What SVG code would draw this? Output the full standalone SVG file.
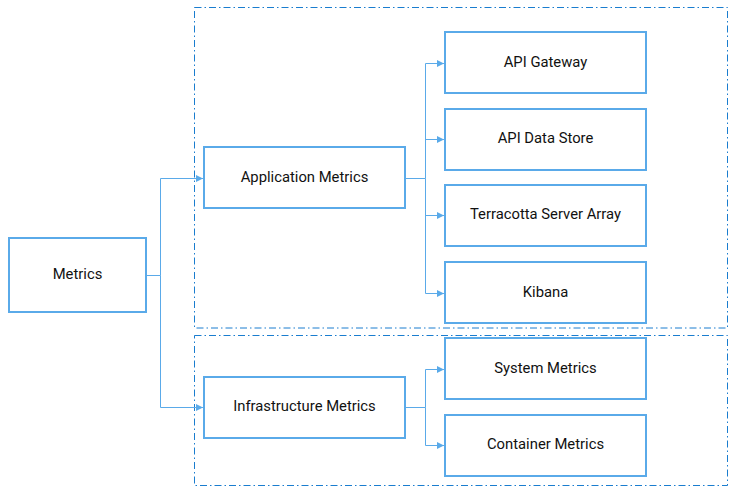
<svg xmlns="http://www.w3.org/2000/svg" width="738" height="492" viewBox="0 0 738 492">
<defs>
<style>
.box{fill:#fff;stroke:#5aaae9;stroke-width:2}
.grp{fill:none;stroke:#1a7dcf;stroke-width:1;stroke-dasharray:7 3 1.5 3}
.lbl{font-family:Roboto,"Liberation Sans",sans-serif;font-size:14.8px;fill:#111;text-anchor:middle;dominant-baseline:central}
.con{fill:none;stroke:#5aaae9;stroke-width:1}
</style>
<marker id="arr" viewBox="0 0 10 10" refX="10" refY="5" markerWidth="7" markerHeight="7" markerUnits="userSpaceOnUse" orient="auto">
<path d="M0,0 L10,5 L0,10 Z" fill="#5aaae9"/>
</marker>
</defs>
<rect class="grp" x="194.5" y="7.5" width="533" height="320.5"/>
<rect class="grp" x="194.5" y="335.5" width="533" height="150"/>
<g id="connectors">
<path class="con" d="M147,275.5 H160.5 V178.5 H203" marker-end="url(#arr)"/>
<path class="con" d="M160.5,275.5 V407.5 H203" marker-end="url(#arr)"/>
<path class="con" d="M405,178.5 H425.5 V63.5 H444" marker-end="url(#arr)"/>
<path class="con" d="M425.5,139.5 H444" marker-end="url(#arr)"/>
<path class="con" d="M425.5,178.5 V293.5 H444" marker-end="url(#arr)"/>
<path class="con" d="M425.5,215.5 H444" marker-end="url(#arr)"/>
<path class="con" d="M405,407.5 H425.5 V369.5 H444" marker-end="url(#arr)"/>
<path class="con" d="M425.5,407.5 V445.5 H444" marker-end="url(#arr)"/>
</g>
<g id="metrics"><rect class="box" x="9" y="238" width="137" height="74"/><text class="lbl" x="77.5" y="273.5">Metrics</text></g>
<g id="app"><rect class="box" x="204" y="147" width="201" height="61"/><text class="lbl" x="304.5" y="176.5">Application Metrics</text></g>
<g id="infra"><rect class="box" x="204" y="377" width="201" height="61"/><text class="lbl" x="304.5" y="406">Infrastructure Metrics</text></g>
<g id="gateway"><rect class="box" x="445" y="32" width="201" height="61"/><text class="lbl" x="545.5" y="61.5">API Gateway</text></g>
<g id="datastore"><rect class="box" x="445" y="109" width="201" height="61"/><text class="lbl" x="545.5" y="137.5">API Data Store</text></g>
<g id="terracotta"><rect class="box" x="445" y="185" width="201" height="61"/><text class="lbl" x="545.5" y="214">Terracotta Server Array</text></g>
<g id="kibana"><rect class="box" x="445" y="262" width="201" height="61"/><text class="lbl" x="545.5" y="291.5">Kibana</text></g>
<g id="system"><rect class="box" x="445" y="338" width="201" height="61"/><text class="lbl" x="545.5" y="367.5">System Metrics</text></g>
<g id="container"><rect class="box" x="445" y="415" width="201" height="61"/><text class="lbl" x="545.5" y="444">Container Metrics</text></g>
</svg>
